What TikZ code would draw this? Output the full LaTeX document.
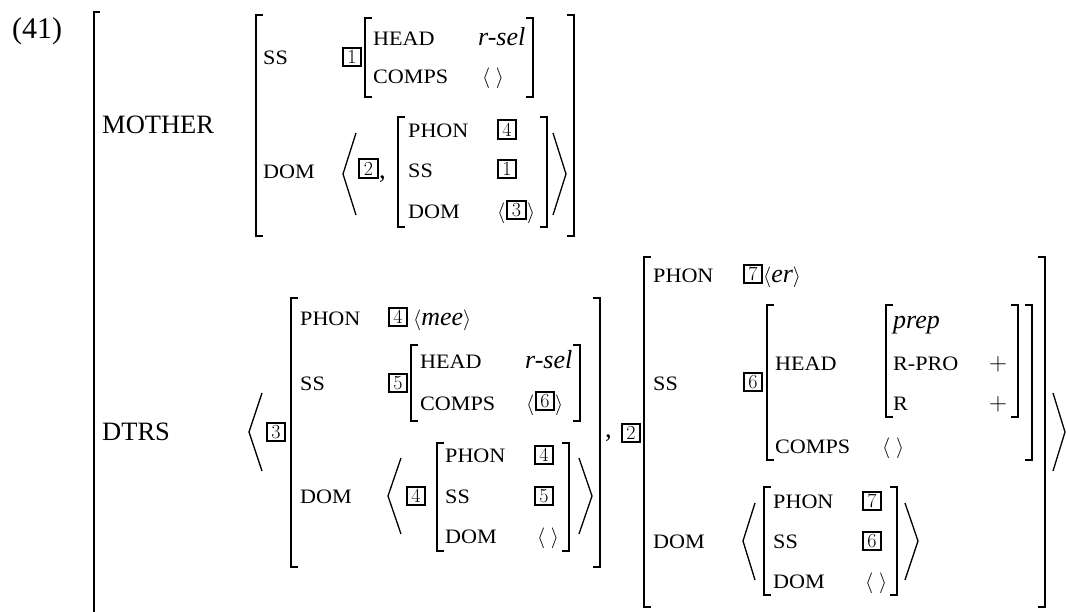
\documentclass[tikz,border=0pt]{standalone}
\usepackage{fontspec}
\newfontfamily\tnr{Liberation Serif}
\newfontfamily\lab[FakeStretch=1.08]{Liberation Serif}
\tikzset{
  lbl/.style={anchor=base west, inner sep=0pt, font=\lab\fontsize{20.5}{20.5}\selectfont},
  bigl/.style={anchor=base west, inner sep=0pt, font=\tnr\fontsize{26.5}{26.5}\selectfont},
  itv/.style={anchor=base west, inner sep=0pt, font=\tnr\itshape\fontsize{26}{26}\selectfont},
  mth/.style={anchor=base west, inner sep=0pt, font=\fontsize{21}{21}\selectfont},
  tagbox/.style={draw, line width=1.7pt, minimum size=18.5pt, inner sep=0pt, font=\fontsize{20}{20}\selectfont},
  brk/.style={line width=2pt},
  ang/.style={line width=1.3pt, line join=miter}
}
\begin{document}
\begin{tikzpicture}[x=1pt,y=-1pt]
\useasboundingbox (0,0) rectangle (1066,611);
% example number
\node[anchor=base west, inner sep=0pt, font=\tnr\fontsize{30}{30}\selectfont] (num) at (12,38) {(41)};
% outer bracket
\draw[brk] (100,12) -- (94,12) -- (94,615);
% MOTHER
\node[bigl] (mother) at (102,133) {MOTHER};
\draw[brk] (263,15) -- (256,15) -- (256,236) -- (263,236);
\draw[brk] (567,15) -- (574,15) -- (574,236) -- (567,236);
\node[lbl] (mss) at (263,64) {SS};
\node[tagbox] (mt1) at (352,57) {1};
\draw[brk] (372,18) -- (365,18) -- (365,97) -- (372,97);
\draw[brk] (526,18) -- (533,18) -- (533,97) -- (526,97);
\node[lbl] (mhead) at (373,45) {HEAD};
\node[itv] (mrsel) at (478,45) {r-sel};
\node[lbl] (mcomps) at (373,83) {COMPS};
\node[mth] (mcv) at (482,83) {$\langle\;\rangle$};
\node[lbl] (mdom) at (263,178) {DOM};
\draw[ang] (356,133) -- (343,174) -- (356,215);
\node[tagbox] (mt2) at (368.5,168.5) {2};
\node[bigl] (mcomma) at (379,178) {,};
\draw[brk] (405,117) -- (398,117) -- (398,227) -- (405,227);
\draw[brk] (540,117) -- (547,117) -- (547,227) -- (540,227);
\node[lbl] (mdphon) at (408,137) {PHON};
\node[tagbox] (mdt4) at (507,129.5) {4};
\node[lbl] (mdss) at (408,177) {SS};
\node[tagbox] (mdt1) at (507,169) {1};
\node[lbl] (mddom) at (408,218) {DOM};
\node[mth] (mdl) at (497,218) {$\langle$};
\node[tagbox] (mdt3) at (516.5,210) {3};
\node[mth] (mdr) at (527,218) {$\rangle$};
\draw[ang] (553,133) -- (566,174) -- (553,215);
% DTRS
\node[bigl] (dtrs) at (102,440) {DTRS};
\draw[ang] (262,393) -- (249,432) -- (262,471);
\node[tagbox] (dt3) at (276,432) {3};
% first daughter
\draw[brk] (298,298) -- (291,298) -- (291,567) -- (298,567);
\draw[brk] (593,298) -- (600,298) -- (600,567) -- (593,567);
\node[lbl] (aphon) at (300,325) {PHON};
\node[tagbox] (at4) at (398,317) {4};
\node[itv] (amee) at (413,325) {{\normalfont\fontsize{21}{21}\selectfont$\langle$}mee{\normalfont\fontsize{21}{21}\selectfont$\rangle$}};
\node[lbl] (ass) at (300,390) {SS};
\node[tagbox] (at5) at (398,383) {5};
\draw[brk] (418,345) -- (411,345) -- (411,421) -- (418,421);
\draw[brk] (573,345) -- (580,345) -- (580,421) -- (573,421);
\node[lbl] (ahead) at (420,368) {HEAD};
\node[itv] (arsel) at (525,368) {r-sel};
\node[lbl] (acomps) at (420,410) {COMPS};
\node[mth] (acl) at (526,410) {$\langle$};
\node[tagbox] (at6) at (545,401) {6};
\node[mth] (acr) at (555,410) {$\rangle$};
\node[lbl] (adom) at (300,503) {DOM};
\draw[ang] (401,458) -- (388,496) -- (401,534);
\node[tagbox] (adt4) at (416,496) {4};
\draw[brk] (444,443) -- (437,443) -- (437,551) -- (444,551);
\draw[brk] (562,443) -- (569,443) -- (569,551) -- (562,551);
\node[lbl] (adphon) at (445,462) {PHON};
\node[tagbox] (adt4b) at (544,455) {4};
\node[lbl] (adss) at (445,503) {SS};
\node[tagbox] (adt5) at (544,496) {5};
\node[lbl] (addom) at (445,543) {DOM};
\node[mth] (addv) at (537,543) {$\langle\;\rangle$};
\draw[ang] (579,458) -- (592,496) -- (579,534);
\node[bigl] (dcomma) at (605,437) {,};
\node[tagbox] (dt2) at (631,433) {2};
% second daughter
\draw[brk] (651,257) -- (644,257) -- (644,607) -- (651,607);
\draw[brk] (1038,257) -- (1045,257) -- (1045,607) -- (1038,607);
\node[lbl] (bphon) at (653,282) {PHON};
\node[tagbox] (bt7) at (753,274) {7};
\node[itv] (ber) at (763,282) {{\normalfont\fontsize{21}{21}\selectfont$\langle$}er{\normalfont\fontsize{21}{21}\selectfont$\rangle$}};
\node[lbl] (bss) at (653,390) {SS};
\node[tagbox] (bt6) at (753,382) {6};
\draw[brk] (774,305) -- (767,305) -- (767,460) -- (774,460);
\draw[brk] (1025,305) -- (1032,305) -- (1032,460) -- (1025,460);
\node[lbl] (bhead) at (775,370) {HEAD};
\draw[brk] (893,305) -- (886,305) -- (886,417) -- (893,417);
\draw[brk] (1011,305) -- (1018,305) -- (1018,417) -- (1011,417);
\node[itv] (bprep) at (893,328) {prep};
\node[lbl] (brpro) at (893,370) {R-PRO};
\node[anchor=base, inner sep=0pt, font=\fontsize{26}{26}\selectfont] (bp1) at (998,370) {$+$};
\node[lbl] (br) at (893,410) {R};
\node[anchor=base, inner sep=0pt, font=\fontsize{26}{26}\selectfont] (bp2) at (998,410) {$+$};
\node[lbl] (bcomps) at (775,453) {COMPS};
\node[mth] (bcv) at (882,453) {$\langle\;\rangle$};
\node[lbl] (bdom) at (653,548) {DOM};
\draw[ang] (755,503) -- (743,541) -- (755,580);
\draw[brk] (771,487) -- (764,487) -- (764,595) -- (771,595);
\draw[brk] (890,487) -- (897,487) -- (897,595) -- (890,595);
\node[lbl] (bdphon) at (773,508) {PHON};
\node[tagbox] (bdt7) at (872,501) {7};
\node[lbl] (bdss) at (773,548) {SS};
\node[tagbox] (bdt6) at (872,541) {6};
\node[lbl] (bddom) at (773,588) {DOM};
\node[mth] (bddv) at (865,588) {$\langle\;\rangle$};
\draw[ang] (905,503) -- (918,541) -- (905,580);
\draw[ang] (1053,393) -- (1065,432) -- (1053,471);
\end{tikzpicture}
\end{document}
